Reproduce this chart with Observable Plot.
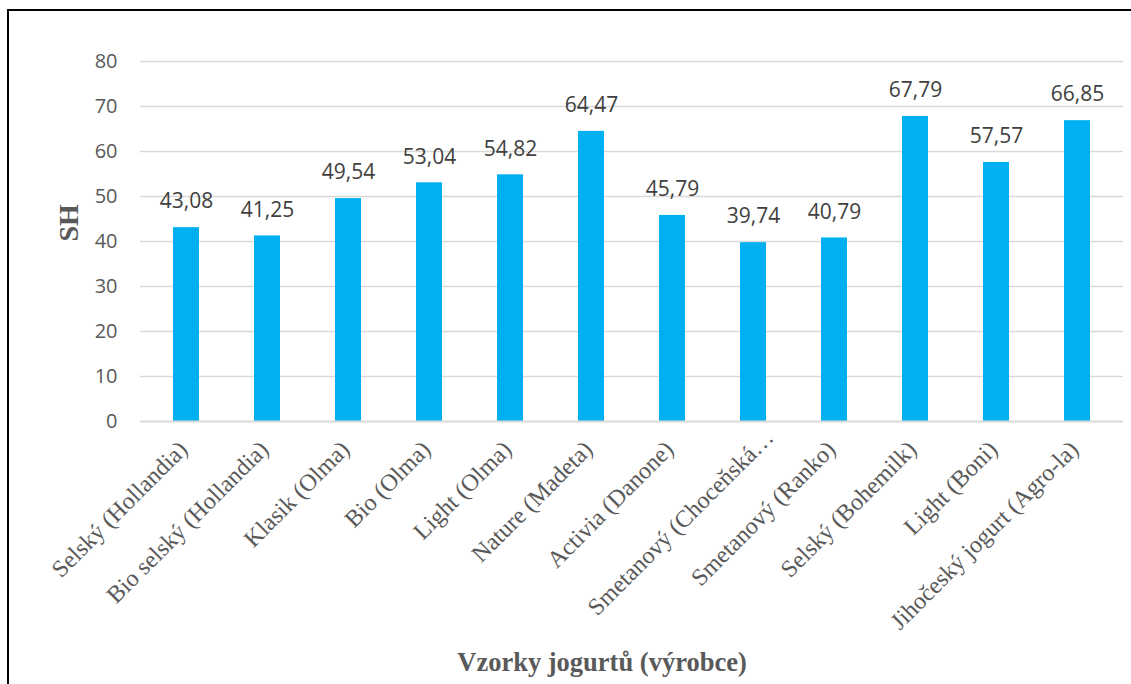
<!DOCTYPE html>
<html>
<head>
<meta charset="utf-8">
<script src="https://cdn.jsdelivr.net/npm/d3@7"></script>
<script src="https://cdn.jsdelivr.net/npm/@observablehq/plot@0.6"></script>
<style>
  html, body { margin: 0; padding: 0; background: #fff; overflow: hidden; width: 1131px; height: 684px; }
  #frame { position: absolute; left: 7px; top: 9px; width: 1200px; height: 720px; border: 2px solid #000; box-sizing: border-box; }
  #chart { position: absolute; left: 0; top: 0; }
</style>
</head>
<body>
<div id="frame"></div>
<div id="chart"></div>
<script>
const categories = [
  "Selský (Hollandia)",
  "Bio selský (Hollandia)",
  "Klasik (Olma)",
  "Bio (Olma)",
  "Light (Olma)",
  "Nature (Madeta)",
  "Activia (Danone)",
  "Smetanový (Choceňská…",
  "Smetanový (Ranko)",
  "Selský (Bohemilk)",
  "Light (Boni)",
  "Jihočeský jogurt (Agro-la)"
];
const values = [43.08, 41.25, 49.54, 53.04, 54.82, 64.47, 45.79, 39.74, 40.79, 67.79, 57.57, 66.85];
const yTicks = [0, 10, 20, 30, 40, 50, 60, 70, 80];
const xTitle = "Vzorky jogurtů (výrobce)";
const yTitle = "SH";
const truncated = "Smetanový (Choceňská…";

const data = categories.map((c, i) => ({cat: c, val: values[i]}));
const fmt = v => v.toFixed(2).replace(".", ",");
const labelStyle = {tickSize: 0, tickRotate: -45, fontFamily: "Liberation Serif", fontSize: 24, fill: "#595959", label: null};

const chart = Plot.plot({
  width: 1131,
  height: 684,
  marginLeft: 140,
  marginRight: 8,
  marginTop: 61,
  marginBottom: 263,
  style: {background: "transparent", overflow: "visible"},
  x: {domain: categories, paddingInner: 0.68, paddingOuter: 0.34, label: null},
  y: {domain: [0, 80], label: null},
  marks: [
    Plot.ruleY(yTicks.filter(t => t > 0), {stroke: "#d9d9d9", strokeWidth: 1.5}),
    Plot.barY(data, {x: "cat", y: "val", fill: "#00B0F0"}),
    Plot.ruleY([0], {stroke: "#d9d9d9", strokeWidth: 2}),
    Plot.text(data, {x: "cat", y: "val", text: d => fmt(d.val), dy: -26, lineAnchor: "middle",
      fontFamily: "Open Sans", fontSize: 21, fill: "#404040"}),
    Plot.axisY({ticks: yTicks, tickSize: 0, tickPadding: 23, tickFormat: d => String(d),
      fontFamily: "Open Sans", fontSize: 20, fill: "#595959", label: null}),
    Plot.axisX({...labelStyle, ticks: categories.filter(c => c !== truncated), tickPadding: 24, dx: -3}),
    Plot.axisX({...labelStyle, ticks: [truncated], tickPadding: 12, dx: 16}),
    Plot.text([xTitle], {frameAnchor: "bottom", dy: 241, dx: -30, lineAnchor: "middle",
      fontFamily: "Liberation Serif", fontWeight: "bold", fontSize: 26.5, fill: "#595959"}),
    Plot.text([yTitle], {frameAnchor: "left", dx: -71, rotate: -90, lineAnchor: "middle",
      fontFamily: "Liberation Serif", fontWeight: "bold", fontSize: 28, fill: "#595959"})
  ]
});
document.getElementById("chart").appendChild(chart);
</script>
</body>
</html>
